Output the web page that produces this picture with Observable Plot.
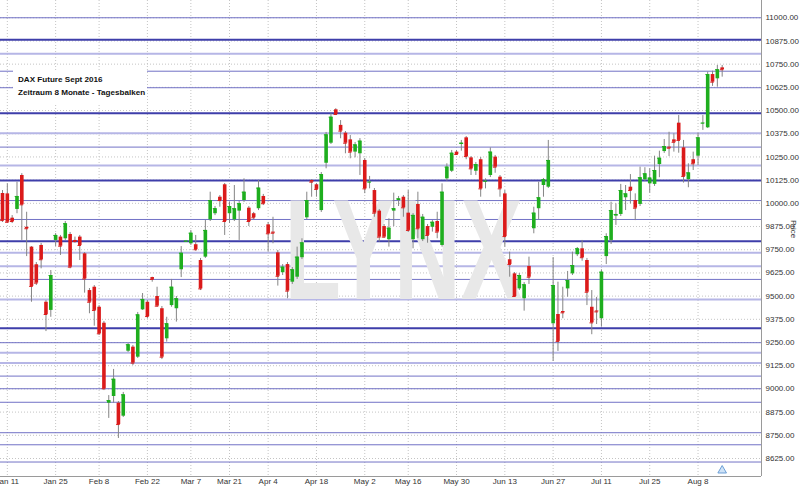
<!DOCTYPE html>
<html><head><meta charset="utf-8">
<script src="https://cdn.jsdelivr.net/npm/d3@7"></script>
<script src="https://cdn.jsdelivr.net/npm/@observablehq/plot@0.6"></script>
<style>
html,body{margin:0;padding:0;background:#fff;}
#wrap{position:relative;width:800px;height:486px;font-family:"Liberation Sans",Arial,sans-serif;}
#title{position:absolute;left:13px;top:70px;width:124px;background:#fff;padding:4px 5px 4px 5px;font-weight:bold;font-size:8.1px;line-height:12.5px;color:#111;white-space:nowrap;}
</style></head><body>
<div id="wrap"><div id="chart"></div><div id="title">DAX Future Sept 2016<br>Zeitraum 8 Monate - Tagesbalken</div></div>
<script>
// Daily OHLC (DAX Future Sept 2016), one entry per trading day
const open  = [10053,10051,9920,9967,10150,9871,9764,9669,9773,9467,9423,9800,9818,9809,9832,9800,9818,9728,9530,9548,9440,9354,8923,8959,8923,8853,9203,9225,9171,9426,9467,9600,9498,9432,9270,9449,9432,9642,9792,9782,9777,9692,9710,9911,9944,10033,10100,9944,9911,9958,10015,9974,9944,9971,10037,9884,9845,9733,9626,9670,9575,9602,9707,9922,10123,10100,9961,10216,10324,10504,10420,10378,10342,10276,10267,10231,10112,10069,9958,9875,9804,9958,10015,10033,9947,9804,9994,9804,9875,9871,9902,9773,10132,10173,10276,10317,10353,10245,10173,10235,10116,10150,10249,10141,10051,9696,9620,9539,9486,9660,9863,9971,10096,10087,9351,9401,9417,9539,9620,9723,9755,9692,9440,9420,9378,9713,9800,9931,9940,10030,10087,10015,9994,10127,10105,10102,10209,10279,10303,10342,10432,10299,10128,10235,10254,10429,10407,10694,10671,10730];
const high  = [10069,10105,9934,10114,10160,9952,9767,9681,9784,9476,9638,9837,9827,9902,9843,9818,9827,9735,9541,9557,9449,9363,8964,9105,8932,8981,9245,9234,9412,9514,9476,9602,9548,9444,9386,9590,9498,9767,9800,9854,9827,9703,9908,10060,9983,10042,10107,10006,10096,10010,10132,9983,9951,10123,10048,9897,9925,9746,9670,9681,9654,9764,9809,10060,10128,10107,10166,10382,10483,10510,10446,10387,10366,10328,10349,10242,10145,10080,9967,9886,9917,10055,10037,10042,10069,9945,10060,9940,9886,9907,9952,10105,10213,10285,10285,10339,10360,10252,10220,10247,10132,10299,10258,10150,10069,9737,9627,9622,9573,9710,9979,10114,10134,10339,9708,9575,9548,9633,9737,9762,9800,9703,9530,9493,9642,9836,10006,9997,10102,10096,10155,10051,10195,10192,10186,10254,10281,10344,10383,10375,10473,10339,10213,10276,10378,10473,10707,10712,10743,10743];
const low   = [9897,9891,9891,9944,9800,9713,9467,9557,9647,9309,9386,9767,9719,9800,9647,9785,9692,9516,9405,9338,9288,8991,8841,8923,8733,8846,9196,9126,9164,9423,9379,9575,9440,9158,9252,9440,9360,9600,9789,9773,9742,9530,9703,9902,9934,9979,9827,9891,9902,9800,10005,9875,9913,9961,9988,9737,9782,9554,9611,9486,9563,9590,9697,9913,10033,10033,9951,10186,10317,10473,10348,10267,10240,10245,10150,10052,10078,9925,9791,9811,9764,9875,9983,9925,9843,9755,9809,9794,9785,9845,9809,9764,10119,10166,10258,10281,10235,10150,10150,10033,10078,10139,10162,10033,9764,9602,9494,9530,9419,9563,9836,9911,10033,10080,9148,9202,9378,9494,9611,9713,9688,9449,9292,9347,9333,9670,9778,9881,9929,9961,9997,9907,9983,10118,10055,10091,10138,10269,10252,10276,10270,10109,10084,10177,10204,10393,10403,10630,10626,10680];
const close = [9907,9898,9902,10037,9992,9863,9552,9570,9696,9401,9611,9827,9769,9890,9656,9794,9773,9593,9467,9423,9297,9001,8937,9052,8808,8968,9238,9139,9399,9482,9390,9590,9446,9171,9351,9548,9486,9731,9796,9839,9750,9539,9854,10015,9971,10015,9902,9983,9971,9998,10060,9902,9922,10082,9998,9836,9839,9607,9656,9527,9642,9710,9787,10015,10114,10075,10155,10369,10464,10479,10389,10324,10276,10315,10335,10078,10114,9947,9818,9818,9866,9971,10024,9976,9854,9935,9863,9925,9827,9898,9845,10060,10195,10270,10263,10324,10252,10186,10209,10078,10119,10276,10195,10078,9821,9670,9498,9611,9561,9602,9947,10030,10127,10231,9557,9256,9410,9584,9665,9755,9707,9521,9356,9415,9629,9821,9961,9940,10069,10051,10069,9974,10138,10159,10136,10177,10243,10306,10297,10329,10339,10145,10164,10213,10353,10432,10694,10653,10720,10720];

// Horizontal support / resistance levels drawn across the chart
const thickLevels  = [10881, 10486, 10123, 9796, 9327];
const normalLevels = [11000, 10712, 10623, 10303, 10015, 9913, 9590, 9249, 9069, 9001, 8928, 8764, 8699, 8606];
const lightLevels  = [10806, 10378, 10204, 9734, 9661, 9482, 9195, 9139];

// Axis ticks
const yTicks = [11000,10875,10750,10625,10500,10375,10250,10125,10000,9875,9750,9625,9500,9375,9250,9125,9000,8875,8750,8625];
const xTickIdx = [1, 11, 20, 30, 39, 47, 55, 65, 75, 84, 94, 104, 114, 124, 134, 144];
const xTickLabels = ["Jan 11","Jan 25","Feb 8","Feb 22","Mar 7","Mar 21","Apr 4","Apr 18","May 2","May 16","May 30","Jun 13","Jun 27","Jul 11","Jul 25","Aug 8"];

const n = open.length;
const idx = d3.range(n);
const upIdx = idx.filter(i => close[i] >= open[i]);
const dnIdx = idx.filter(i => close[i] < open[i]);
const xDomain = [-0.414, 157.14];
const yDomain = [8528, 11093];
const green = "#1eae1e", red = "#db1a1a";
const half = 0.37;

const plot = Plot.plot({
  width: 800, height: 486,
  marginLeft: 0, marginRight: 39, marginTop: 0, marginBottom: 10,
  style: {fontFamily: "'Liberation Sans', Arial, sans-serif", fontSize: "8px", background: "#fff", color: "#333", overflow: "visible"},
  x: {type: "linear", domain: xDomain, axis: null},
  y: {type: "linear", domain: yDomain, axis: null},
  marks: [
    Plot.ruleX(xTickIdx, {stroke: "#c4c4c4", strokeDasharray: "1,2"}),
    Plot.ruleY(yTicks, {stroke: "#c4c4c4", strokeDasharray: "1,2"}),
    Plot.ruleY(lightLevels, {stroke: "#b6b6e6", strokeWidth: 2}),
    Plot.ruleY(normalLevels, {stroke: "#7272c6", strokeWidth: 1}),
    Plot.ruleY(thickLevels, {stroke: "#3e3eaa", strokeWidth: 2}),
    Plot.text(["LYNX"], {text: d => d, frameAnchor: "top-left", dx: 284, dy: 298, lineAnchor: "bottom", textAnchor: "start", fontSize: 142, fontWeight: "bold", fill: "#e8e8e8"}),
    Plot.ruleX(idx, {x: i => i, y1: i => low[i], y2: i => high[i], stroke: "#858585", strokeWidth: 1}),
    Plot.ruleX(upIdx, {x: i => i, y1: i => open[i], y2: i => close[i], stroke: green, strokeWidth: 3.6}),
    Plot.ruleX(dnIdx, {x: i => i, y1: i => open[i], y2: i => close[i], stroke: red, strokeWidth: 3.6}),
    Plot.ruleY(upIdx, {y: i => close[i], x1: i => i - half, x2: i => i + half, stroke: green, strokeWidth: 1}),
    Plot.ruleY(dnIdx, {y: i => close[i], x1: i => i - half, x2: i => i + half, stroke: red, strokeWidth: 1}),
    Plot.dot([n - 1], {x: d => d, frameAnchor: "bottom", dy: -6, symbol: "triangle", r: 3.2, fill: "#cfe3f7", stroke: "#6b9fd6", strokeWidth: 1}),
    Plot.ruleX([xDomain[1]], {stroke: "#9a9a9a"}),
    Plot.ruleY([yDomain[0]], {stroke: "#9a9a9a"}),
    Plot.axisX({ticks: xTickIdx, tickFormat: d => xTickLabels[xTickIdx.indexOf(d)], tickSize: 0, tickPadding: 2, anchor: "bottom", fontSize: 8}),
    Plot.axisY({ticks: yTicks, tickFormat: d3.format(".2f"), anchor: "right", tickSize: 0, tickPadding: 4, fontSize: 8})
  ]
});

const svg = d3.select(plot);
svg.selectAll("text").filter(function() { return this.textContent === "LYNX"; })
  .attr("textLength", 238).attr("lengthAdjust", "spacingAndGlyphs");
svg.append("text")
  .attr("transform", "translate(791,229) rotate(90)")
  .attr("text-anchor", "middle")
  .attr("font-size", 8)
  .attr("fill", "#333")
  .text("Price");
document.getElementById("chart").appendChild(plot);
</script></body></html>
